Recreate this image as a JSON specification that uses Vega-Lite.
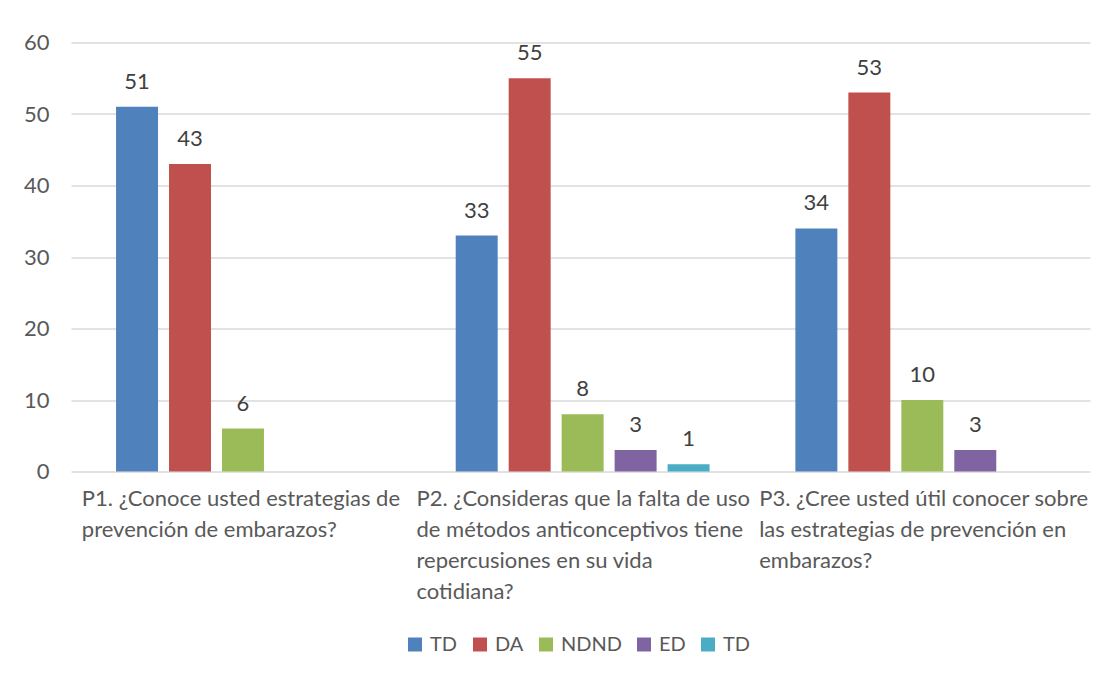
{
  "$schema": "https://vega.github.io/schema/vega-lite/v6.json",
  "width": 1019,
  "height": 429,
  "autosize": "none",
  "padding": {"left": 71, "top": 42.5, "right": 28, "bottom": 201.5},
  "background": "white",
  "config": {
    "font": "Lato",
    "view": {"stroke": null},
    "text": {"font": "Lato"}
  },
  "data": {
    "values": [
      {"q": "P1", "s": "TD", "v": 51},
      {"q": "P1", "s": "DA", "v": 43},
      {"q": "P1", "s": "NDND", "v": 6},
      {"q": "P2", "s": "TD", "v": 33},
      {"q": "P2", "s": "DA", "v": 55},
      {"q": "P2", "s": "NDND", "v": 8},
      {"q": "P2", "s": "ED", "v": 3},
      {"q": "P2", "s": "TD2", "v": 1},
      {"q": "P3", "s": "TD", "v": 34},
      {"q": "P3", "s": "DA", "v": 53},
      {"q": "P3", "s": "NDND", "v": 10},
      {"q": "P3", "s": "ED", "v": 3}
    ]
  },
  "encoding": {
    "x": {
      "field": "q",
      "type": "nominal",
      "scale": {"paddingInner": 0, "paddingOuter": 0},
      "axis": {
        "title": null,
        "domain": false,
        "ticks": false,
        "labelAngle": 0,
        "labelAlign": "left",
        "labelBaseline": "top",
        "labelOffset": {"expr": "datum.value == 'P2' ? -164 : (datum.value == 'P3' ? -161 : -159)"},
        "labelPadding": 17,
        "labelFont": "Lato",
        "labelFontSize": 22,
        "labelColor": "#595959",
        "labelLineHeight": 31,
        "labelOverlap": false,
        "labelBound": false,
        "labelFlush": false,
        "labelLimit": 0,
        "labelExpr": "datum.value == 'P1' ? ['P1. ¿Conoce usted estrategias de', 'prevención de embarazos?'] : datum.value == 'P2' ? ['P2. ¿Consideras que la falta de uso', 'de métodos anticonceptivos tiene', 'repercusiones en su vida', 'cotidiana?'] : ['P3. ¿Cree usted útil conocer sobre', 'las estrategias de prevención en', ' embarazos?']"
      }
    },
    "xOffset": {
      "field": "s",
      "type": "nominal",
      "scale": {"domain": ["TD", "DA", "NDND", "ED", "TD2"], "paddingInner": 0.2075, "paddingOuter": 0.81, "align": 0.525}
    },
    "y": {
      "field": "v",
      "type": "quantitative",
      "scale": {"domain": [0, 60], "nice": false},
      "axis": {
        "title": null,
        "values": [0, 10, 20, 30, 40, 50, 60],
        "domain": false,
        "ticks": false,
        "labelPadding": 22,
        "labelFont": "Lato",
        "labelFontSize": 22,
        "labelColor": "#595959",
        "gridColor": "#D9D9D9",
        "gridWidth": 1.5
      }
    }
  },
  "layer": [
    {
      "mark": {"type": "bar"},
      "encoding": {
        "color": {
          "field": "s",
          "type": "nominal",
          "scale": {
            "domain": ["TD", "DA", "NDND", "ED", "TD2"],
            "range": ["#4F81BD", "#C0504D", "#9BBB59", "#8064A2", "#4BACC6"]
          },
          "legend": {
            "title": null,
            "orient": "none",
            "direction": "horizontal",
            "legendX": 334,
            "legendY": 592,
            "symbolType": "square",
            "symbolSize": 196,
            "symbolStrokeWidth": 0,
            "labelFont": "Lato",
            "labelFontSize": 20,
            "labelColor": "#595959",
            "labelOffset": 5,
            "columnPadding": 12,
            "labelExpr": "datum.label == 'TD2' ? 'TD' : datum.label"
          }
        }
      }
    },
    {
      "mark": {"type": "text", "baseline": "bottom", "dy": -13, "fontSize": 22, "color": "#404040", "font": "Lato"},
      "encoding": {"text": {"field": "v", "type": "quantitative"}}
    }
  ]
}
